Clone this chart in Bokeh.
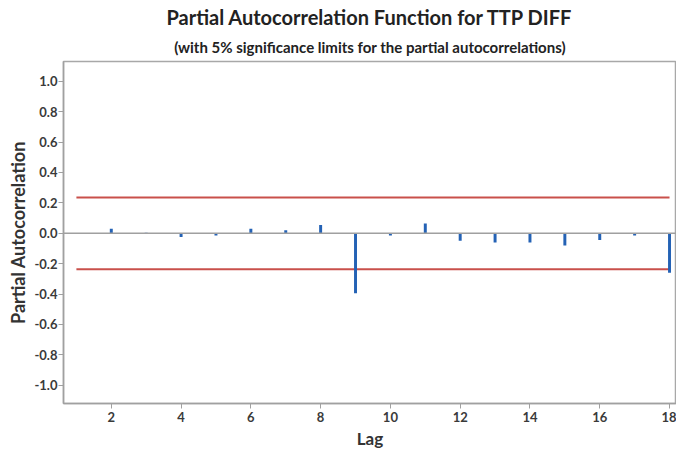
from bokeh.plotting import figure
from bokeh.models import Range1d, FixedTicker, PrintfTickFormatter, Title, Span, ColumnDataSource
from bokeh.embed import file_html
from bokeh.resources import INLINE

title_text = "Partial Autocorrelation Function for TTP DIFF"
subtitle_text = "(with 5% significance limits for the partial autocorrelations)"
x_label = "Lag"
y_label = "Partial Autocorrelation"

lags = [2, 3, 4, 5, 6, 7, 8, 9, 10, 11, 12, 13, 14, 15, 16, 17, 18]
pacf = [0.03, 0.003, -0.025, -0.015, 0.03, 0.02, 0.055, -0.395, -0.015, 0.065,
        -0.05, -0.06, -0.06, -0.08, -0.045, -0.015, -0.26]
limit_lags = [1, 18]
sig_limit = 0.236
y_ticks = [-1.0, -0.8, -0.6, -0.4, -0.2, 0.0, 0.2, 0.4, 0.6, 0.8, 1.0]
x_ticks = [2, 4, 6, 8, 10, 12, 14, 16, 18]

FONT = "Lato"
p = figure(width=676, height=451, output_backend="svg", toolbar_location=None,
           x_range=Range1d(0.63, 18.2), y_range=Range1d(-1.12, 1.13),
           min_border_left=63, min_border_right=0, min_border_top=0, min_border_bottom=48)
p.grid.visible = False
p.outline_line_color = "#a8a8a8"
p.outline_line_width = 1.5

p.title.text = title_text
p.title.text_font = FONT
p.title.text_font_style = "bold"
p.title.text_font_size = "20px"
p.title.text_color = "#222222"
p.title.align = "center"
p.title.standoff = 4
p.add_layout(Title(text=subtitle_text, text_font=FONT, text_font_style="bold",
                   text_font_size="15px", text_color="#222222", align="center",
                   standoff=11), "above")

src = ColumnDataSource(dict(x=lags, top=pacf, bottom=[0] * len(lags)))
p.add_layout(Span(location=0, dimension="width", line_color="#a0a0a0", line_width=1.5))
p.segment(x0=limit_lags[0], x1=limit_lags[1], y0=sig_limit, y1=sig_limit,
          line_color="#c9504b", line_width=2)
p.segment(x0=limit_lags[0], x1=limit_lags[1], y0=-sig_limit, y1=-sig_limit,
          line_color="#c9504b", line_width=2)
p.vbar(x="x", top="top", bottom="bottom", width=0.085, source=src,
       fill_color="#2462b5", line_color=None)

for ax in (p.xaxis[0], p.yaxis[0]):
    ax.axis_line_color = "#a0a0a0"
    ax.axis_line_width = 1.5
    ax.major_tick_line_color = "#a0a0a0"
    ax.major_tick_out = 5
    ax.major_tick_in = 0
    ax.minor_tick_line_color = None
    ax.major_label_text_font = FONT
    ax.major_label_text_font_style = "bold"
    ax.major_label_text_font_size = "13px"
    ax.major_label_text_color = "#3a3a3a"
    ax.axis_label_text_font = FONT
    ax.axis_label_text_font_style = "bold"
    ax.axis_label_text_font_size = "17px"
    ax.axis_label_text_color = "#333333"

p.yaxis.ticker = FixedTicker(ticks=y_ticks)
p.yaxis.formatter = PrintfTickFormatter(format="%.1f")
p.xaxis.ticker = FixedTicker(ticks=x_ticks)
p.xaxis.axis_label = x_label
p.yaxis.axis_label = y_label
p.xaxis.axis_label_standoff = 3
p.xaxis.major_label_standoff = 3
p.yaxis.axis_label_standoff = 2
p.yaxis.major_label_standoff = 1
p.yaxis.axis_label_text_font_size = "18px"

open("out.html", "w").write(file_html(p, INLINE))
